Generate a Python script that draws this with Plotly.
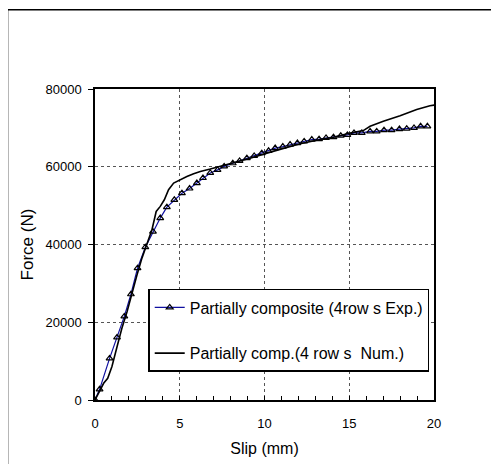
import plotly.graph_objects as go

# experimental curve (triangle markers)
exp_slip = [0, 0.27, 0.86, 1.30, 1.73, 2.12, 2.51, 2.97, 3.42, 3.85, 4.24, 4.68, 5.13, 5.58,
            6.01, 6.37, 6.80, 7.23, 7.62, 8.13, 8.53, 8.96, 9.39, 9.84, 10.24, 10.63, 11.08,
            11.51, 11.94, 12.34, 12.79, 13.22, 13.63, 14.07, 14.50, 14.89, 15.28, 15.74,
            16.23, 16.62, 17.05, 17.50, 17.96, 18.39, 18.82, 19.21, 19.61]
exp_force = [0, 2750, 10700, 16100, 21500, 27200, 33900, 39300, 43300, 46800, 49600, 51500,
             53200, 54400, 55800, 57100, 58400, 59200, 60100, 60900, 61500, 62200, 62800,
             63500, 64100, 64800, 65200, 65700, 66100, 66500, 67000, 67100, 67400, 67600,
             68000, 68200, 68700, 68700, 69100, 69100, 69400, 69400, 69700, 69800, 70000,
             70400, 70400]

# numerical curve
num_slip = [0, 0.22, 0.51, 0.75, 1.0, 1.30, 1.59, 1.89, 2.18, 2.48, 2.77, 3.06, 3.36, 3.61,
            3.85, 4.09, 4.34, 4.64, 5.03, 5.42, 5.82, 6.21, 6.80, 7.39, 8.17, 9.15, 10.14,
            11.12, 12.10, 13.08, 14.07, 15.05, 15.83, 16.23, 17.01, 18.0, 18.98, 19.76, 20.2]
num_force = [0, 1700, 4300, 5600, 8600, 13700, 18500, 22700, 27500, 32200, 36500, 39900,
             43800, 48500, 49800, 51500, 54100, 55800, 56700, 57500, 58200, 58800, 59400,
             60100, 60900, 62200, 63500, 64800, 65900, 66800, 67600, 68700, 69300, 70400,
             71700, 73100, 74700, 75700, 76000]

font = "Liberation Sans, Arial, sans-serif"

fig = go.Figure()
fig.add_trace(go.Scatter(
    x=exp_slip, y=exp_force, mode="lines+markers",
    name="Partially composite (4row s Exp.)", legendgroup="a",
    line=dict(color="#1010a0", width=1.2),
    marker=dict(symbol="triangle-up-open", size=6, color="black", line=dict(width=1.2)),
))
fig.add_trace(go.Scatter(
    x=num_slip, y=num_force, mode="lines",
    name="Partially comp.(4 row s&nbsp; Num.)", legendgroup="b",
    line=dict(color="black", width=1.6),
))

# page body has an 8px margin, so the figure is shrunk and shifted to match
fig.update_layout(
    width=491, height=456,
    margin=dict(l=87, r=65, t=81, b=64),
    paper_bgcolor="white", plot_bgcolor="white",
    font=dict(family=font, color="black", size=13),
    showlegend=True,
    legend=dict(
        x=0.157, y=0.357, xanchor="left", yanchor="top",
        bgcolor="white", bordercolor="black", borderwidth=1.5,
        font=dict(size=16), tracegroupgap=22,
    ),
    shapes=[dict(type="rect", xref="paper", yref="paper",
                 x0=-0.258, x1=1.3, y0=-0.3, y1=1.255,
                 line=dict(color="black", width=1.5))],
)
fig.update_xaxes(
    range=[0, 20], dtick=5, showline=True, linecolor="black", linewidth=1.5, mirror=True,
    ticks="inside", ticklen=4, tickcolor="black", ticklabelstandoff=11, automargin=False,
    minor=dict(ticks="inside", dtick=1, ticklen=4, tickcolor="black", showgrid=False),
    showgrid=True, gridcolor="#555", griddash="dot", gridwidth=1, zeroline=False,
    title=dict(text="Slip (mm)", font=dict(size=16), standoff=12),
)
fig.update_yaxes(
    range=[0, 80000], dtick=20000, showline=True, linecolor="black", linewidth=1.5, mirror=True,
    ticks="outside", ticklen=5, tickcolor="black", tickformat="d", ticklabelstandoff=4,
    automargin=False,
    showgrid=True, gridcolor="#555", griddash="dot", gridwidth=1, zeroline=False,
    title=dict(text="Force (N)", font=dict(size=17), standoff=8),
)

fig.write_html("out.html")
